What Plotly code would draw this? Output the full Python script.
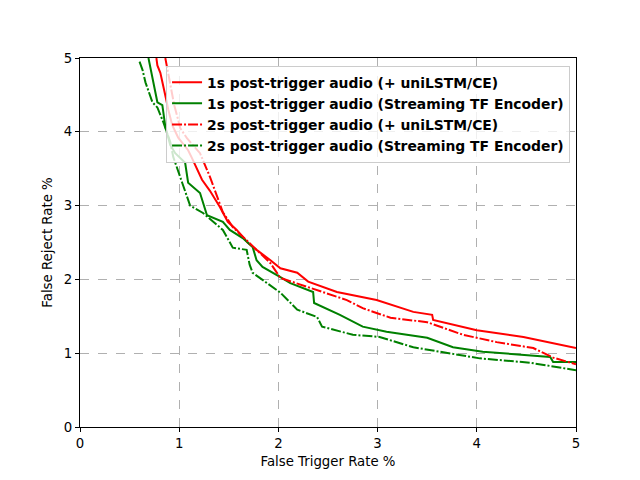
import plotly.graph_objects as go

# 1s post-trigger audio (+ uniLSTM/CE)
far_1s_lstm = [0.77, 0.78, 0.81, 0.84, 0.87, 0.89, 0.93, 0.99, 1.09, 1.13, 1.23, 1.31, 1.41, 1.49, 1.58,
               1.69, 1.78, 1.92, 2.02, 2.19, 2.3, 2.59, 2.99, 3.36, 3.55, 3.56, 4.0, 4.47, 5.0]
frr_1s_lstm = [5.0, 4.9, 4.8, 4.59, 4.43, 4.3, 4.09, 3.92, 3.75, 3.64, 3.35, 3.2, 2.98, 2.78, 2.67,
               2.5, 2.4, 2.26, 2.15, 2.09, 1.97, 1.83, 1.72, 1.56, 1.52, 1.45, 1.31, 1.22, 1.07]

# 1s post-trigger audio (Streaming TF Encoder)
far_1s_tf = [0.69, 0.71, 0.74, 0.76, 0.78, 0.83, 0.86, 0.91, 0.96, 1.06, 1.09, 1.21, 1.24, 1.28, 1.44,
             1.51, 1.64, 1.74, 1.78, 1.84, 2.02, 2.12, 2.35, 2.36, 2.62, 2.85, 3.09, 3.5, 3.76, 4.06,
             4.74, 4.77, 5.0]
frr_1s_tf = [5.0, 4.86, 4.67, 4.54, 4.4, 4.36, 4.07, 3.82, 3.71, 3.58, 3.31, 3.17, 3.04, 2.87, 2.78,
             2.67, 2.56, 2.44, 2.26, 2.17, 2.03, 1.95, 1.83, 1.68, 1.52, 1.36, 1.29, 1.21, 1.08, 1.02,
             0.95, 0.88, 0.88]

# 2s post-trigger audio (+ uniLSTM/CE)
far_2s_lstm = [0.86, 0.93, 0.95, 0.99, 1.01, 1.08, 1.14, 1.21, 1.31, 1.44, 1.54, 1.68, 1.8, 1.92, 2.02,
               2.45, 2.69, 2.85, 3.13, 3.5, 3.86, 4.2, 4.57, 4.77, 5.0]
frr_2s_lstm = [5.0, 4.54, 4.36, 4.16, 4.05, 3.91, 3.82, 3.71, 3.39, 2.91, 2.71, 2.53, 2.38, 2.22, 2.02,
               1.83, 1.72, 1.61, 1.48, 1.42, 1.25, 1.15, 1.07, 0.94, 0.85]

# 2s post-trigger audio (Streaming TF Encoder)
far_2s_tf = [0.6, 0.63, 0.66, 0.69, 0.73, 0.78, 0.84, 0.91, 0.94, 1.03, 1.11, 1.24, 1.34, 1.44, 1.54,
             1.68, 1.71, 1.74, 2.02, 2.19, 2.39, 2.44, 2.75, 3.02, 3.36, 3.7, 4.03, 4.54, 5.0]
frr_2s_tf = [4.95, 4.84, 4.67, 4.54, 4.4, 4.33, 4.13, 3.86, 3.66, 3.31, 3.0, 2.9, 2.78, 2.67, 2.43,
             2.4, 2.2, 2.09, 1.82, 1.59, 1.49, 1.36, 1.25, 1.22, 1.08, 1.0, 0.93, 0.87, 0.77]

dashdot = "10px,2px,2px,2px"

fig = go.Figure()
fig.add_trace(go.Scatter(x=far_1s_lstm, y=frr_1s_lstm, mode="lines",
                         name="1s post-trigger audio (+ uniLSTM/CE)",
                         line={"color": "red", "width": 2}))
fig.add_trace(go.Scatter(x=far_1s_tf, y=frr_1s_tf, mode="lines",
                         name="1s post-trigger audio (Streaming TF Encoder)",
                         line={"color": "green", "width": 2}))
fig.add_trace(go.Scatter(x=far_2s_lstm, y=frr_2s_lstm, mode="lines",
                         name="2s post-trigger audio (+ uniLSTM/CE)",
                         line={"color": "red", "width": 2, "dash": dashdot}))
fig.add_trace(go.Scatter(x=far_2s_tf, y=frr_2s_tf, mode="lines",
                         name="2s post-trigger audio (Streaming TF Encoder)",
                         line={"color": "green", "width": 2, "dash": dashdot}))

axis_style = dict(
    showline=True, linecolor="black", linewidth=1, mirror=True,
    ticks="outside", ticklen=4, tickcolor="black",
    showgrid=True, gridcolor="#b0b0b0", griddash="dash", gridwidth=1,
    zeroline=False, automargin=False,
    tickfont={"size": 13.3, "color": "black"},
    title_font={"size": 13.3, "color": "black"},
)

fig.update_xaxes(range=[0, 5], dtick=1, title_text="False Trigger Rate %",
                 title_standoff=6, **axis_style)
fig.update_yaxes(range=[0, 5], dtick=1, title_text="False Reject Rate %",
                 title_standoff=8, **axis_style)

# page body adds an 8px margin, so the figure is drawn a little smaller
fig.update_layout(
    width=624, height=464,
    margin={"l": 72, "r": 56, "t": 50, "b": 45},
    plot_bgcolor="white", paper_bgcolor="white",
    font={"family": "DejaVu Sans", "color": "black"},
    legend={
        "x": 0.988, "y": 0.979, "xanchor": "right", "yanchor": "top",
        "bgcolor": "rgba(255,255,255,0.8)", "bordercolor": "#cccccc", "borderwidth": 1,
        "font": {"size": 13.9, "weight": "bold", "color": "black"},
        "tracegroupgap": 0, "itemwidth": 30,
    },
)

fig.write_html("out.html")
